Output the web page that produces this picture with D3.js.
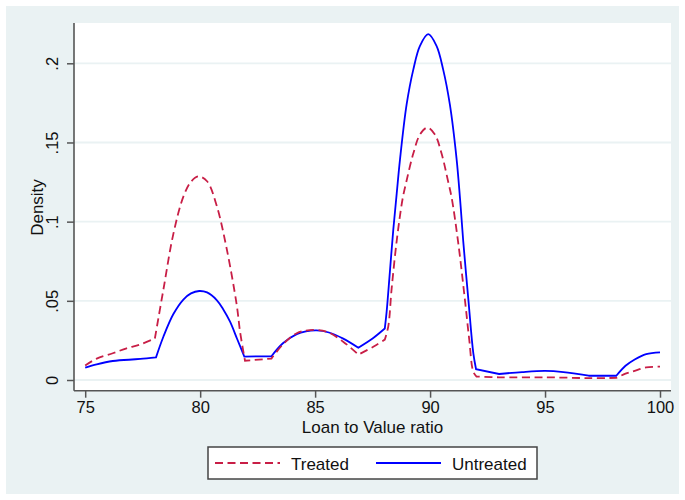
<!DOCTYPE html>
<html>
<head>
<meta charset="utf-8">
<script src="https://cdn.jsdelivr.net/npm/d3@7"></script>
<style>
  body { margin: 0; background: #fff; }
  svg { display: block; font-family: "Liberation Sans", Arial, Helvetica, sans-serif; }
</style>
</head>
<body>
<svg id="chart" width="685" height="500"></svg>
<script>
// values
var ltvTreated = [75, 75.5, 76.2, 76.8, 77.4, 78.03, 78.4, 78.83, 79.27, 79.6, 79.92, 80.3, 80.72,
  81.15, 81.59, 81.74, 81.95, 83.1, 83.6, 84.2, 84.77, 85.5, 86.22, 86.88, 87.53, 88.03, 88.18,
  88.33, 88.55, 88.8, 88.98, 89.27, 89.56, 89.88, 90.21, 90.5, 90.79, 90.94, 91.23, 91.52, 91.7,
  91.88, 92.02, 93, 95, 96.9, 98.1, 98.5, 98.9, 99.4, 100];
var densityTreated = [0.0092, 0.0135, 0.0169, 0.0200, 0.0225, 0.0262, 0.0570, 0.0920, 0.1158, 0.1252,
  0.1286, 0.1255, 0.1100, 0.0832, 0.0474, 0.0300, 0.0122, 0.0135, 0.0225, 0.0295, 0.0315, 0.0305,
  0.0242, 0.0160, 0.0210, 0.0255, 0.0337, 0.0580, 0.0880, 0.1140, 0.1260, 0.1430, 0.1550, 0.1594,
  0.1550, 0.1430, 0.1250, 0.1150, 0.0860, 0.0500, 0.0260, 0.0052, 0.0022, 0.0017, 0.0017, 0.0012,
  0.0013, 0.0040, 0.0058, 0.0080, 0.0084];

var ltvUntreated = [75, 75.5, 76.2, 76.9, 77.4, 78.08, 78.4, 78.83, 79.27, 79.6, 79.96, 80.3, 80.72,
  81, 81.3, 81.6, 81.92, 83.1, 83.6, 84.2, 84.6, 85.07, 85.6, 86.2, 86.88, 87.5, 88.03, 88.11,
  88.25, 88.4, 88.55, 88.69, 88.98, 89.27, 89.56, 89.92, 90.28, 90.57, 90.86, 91.15, 91.3, 91.44,
  91.67, 91.88, 92, 93, 94, 95, 95.8, 96.9, 98.1, 98.5, 98.9, 99.4, 100];
var densityUntreated = [0.0078, 0.0099, 0.0120, 0.0128, 0.0133, 0.0143, 0.0273, 0.0415, 0.0508, 0.0547,
  0.0562, 0.0553, 0.0505, 0.0447, 0.0368, 0.0262, 0.0148, 0.0150, 0.0232, 0.0290, 0.0307, 0.0313,
  0.0300, 0.0263, 0.0204, 0.0262, 0.0325, 0.0430, 0.0680, 0.0950, 0.1180, 0.1390, 0.1740, 0.1960,
  0.2110, 0.2184, 0.2110, 0.1960, 0.1740, 0.1400, 0.1150, 0.0880, 0.0500, 0.0170, 0.0068, 0.0038,
  0.0050, 0.0057, 0.0050, 0.0027, 0.0027, 0.0090, 0.0130, 0.0164, 0.0175];

// corners visible in the curves (kernel edges)
var cornersTreated = [78.03, 81.95, 83.1, 86.88, 88.03, 92.02, 98.1];
var cornersUntreated = [76.9, 78.08, 81.92, 83.1, 86.88, 88.03, 92, 93, 96.9, 98.1];

var xTicks = [75, 80, 85, 90, 95, 100];
var yTicks = [0, 0.05, 0.1, 0.15, 0.2];
var yTickLabels = ['0', '.05', '.1', '.15', '.2'];
var seriesNames = ['Treated', 'Untreated'];
var seriesColors = ['#c81e46', '#0000ff'];

var svg = d3.select('#chart');

var plot = {left: 74, right: 671, top: 23, bottom: 390.7};

var x = d3.scaleLinear().domain([75, 100]).range([85.2, 660]);
var y = d3.scaleLinear().domain([0, 0.2]).range([380, 63.3]);

// graph region and plot region
svg.append('rect')
  .attr('x', 6).attr('y', 6)
  .attr('width', 673).attr('height', 488)
  .attr('fill', '#eaf2f3');

svg.append('rect')
  .attr('x', plot.left).attr('y', plot.top)
  .attr('width', plot.right - plot.left)
  .attr('height', plot.bottom - plot.top)
  .attr('fill', '#fff');

// horizontal grid
svg.append('g')
  .attr('class', 'grid')
  .selectAll('line')
  .data(yTicks)
  .enter()
  .append('line')
  .attr('x1', plot.left)
  .attr('x2', plot.right)
  .attr('y1', function(d) { return y(d); })
  .attr('y2', function(d) { return y(d); })
  .attr('stroke', '#eaf2f3')
  .attr('stroke-width', 1.8);

// curves: smooth between corners, sharp at the corners
var line = d3.line()
  .x(function(d) { return x(d[0]); })
  .y(function(d) { return y(d[1]); })
  .curve(d3.curveCatmullRom.alpha(0.5));

function cornerPath(xs, ys, corners) {
  var pieces = [[]];
  xs.forEach(function(xv, i) {
    var cur = pieces[pieces.length - 1];
    cur.push([xv, ys[i]]);
    if (corners.indexOf(xv) !== -1 && i > 0 && i < xs.length - 1) {
      pieces.push([[xv, ys[i]]]);
    }
  });
  return pieces.map(function(p, i) {
    var d = line(p);
    return i === 0 ? d : d.replace(/^M[^CLZ]*/, '');
  }).join('');
}

svg.append('path')
  .attr('d', cornerPath(ltvUntreated, densityUntreated, cornersUntreated))
  .attr('fill', 'none')
  .attr('stroke', seriesColors[1])
  .attr('stroke-width', 1.8);

svg.append('path')
  .attr('d', cornerPath(ltvTreated, densityTreated, cornersTreated))
  .attr('fill', 'none')
  .attr('stroke', seriesColors[0])
  .attr('stroke-width', 1.8)
  .attr('stroke-dasharray', '8,4.5');

// x axis
var xAxis = svg.append('g')
  .attr('transform', 'translate(0,' + plot.bottom + ')')
  .call(d3.axisBottom(x).tickValues(xTicks).tickSize(7).tickSizeOuter(0));
xAxis.select('.domain').remove();
xAxis.selectAll('.tick line').attr('stroke', '#555').attr('stroke-width', 1.5);
xAxis.selectAll('.tick text')
  .attr('y', 22.5)
  .attr('dy', 0)
  .attr('fill', '#111')
  .style('font-size', '16.5px');
svg.append('line')
  .attr('x1', plot.left).attr('x2', plot.right)
  .attr('y1', plot.bottom).attr('y2', plot.bottom)
  .attr('stroke', '#555').attr('stroke-width', 1.6);

// y axis
var yAxis = svg.append('g')
  .attr('transform', 'translate(' + plot.left + ',0)')
  .call(d3.axisLeft(y).tickValues(yTicks).tickSize(7).tickSizeOuter(0)
    .tickFormat(function(d, i) { return yTickLabels[i]; }));
yAxis.select('.domain').remove();
yAxis.selectAll('.tick line').attr('stroke', '#555').attr('stroke-width', 1.5);
yAxis.selectAll('.tick text')
  .attr('transform', 'rotate(-90)')
  .attr('x', 0)
  .attr('y', -16)
  .attr('dy', 0)
  .attr('text-anchor', 'middle')
  .attr('fill', '#111')
  .style('font-size', '16.5px');
svg.append('line')
  .attr('x1', plot.left).attr('x2', plot.left)
  .attr('y1', plot.top).attr('y2', plot.bottom)
  .attr('stroke', '#555').attr('stroke-width', 1.6);

// axis titles
svg.append('text')
  .attr('x', (plot.left + plot.right) / 2)
  .attr('y', 432.5)
  .attr('text-anchor', 'middle')
  .attr('fill', '#111')
  .style('font-size', '17px')
  .text('Loan to Value ratio');

svg.append('text')
  .attr('transform', 'translate(43,207.5) rotate(-90)')
  .attr('text-anchor', 'middle')
  .attr('fill', '#111')
  .style('font-size', '17px')
  .text('Density');

// legend
var legend = svg.append('g').attr('class', 'legend');
legend.append('rect')
  .attr('x', 208).attr('y', 447)
  .attr('width', 329).attr('height', 32)
  .attr('fill', '#fff')
  .attr('stroke', '#444')
  .attr('stroke-width', 1.5);

var legendX = [215, 376];
seriesNames.forEach(function(name, i) {
  var l = legend.append('line')
    .attr('x1', legendX[i]).attr('x2', legendX[i] + 65)
    .attr('y1', 463).attr('y2', 463)
    .attr('stroke', seriesColors[i])
    .attr('stroke-width', 1.8);
  if (i === 0) l.attr('stroke-dasharray', '8,4.5');

  legend.append('text')
    .attr('x', legendX[i] + 76)
    .attr('y', 469.5)
    .attr('fill', '#111')
    .style('font-size', '17px')
    .text(name);
});
</script>
</body>
</html>
